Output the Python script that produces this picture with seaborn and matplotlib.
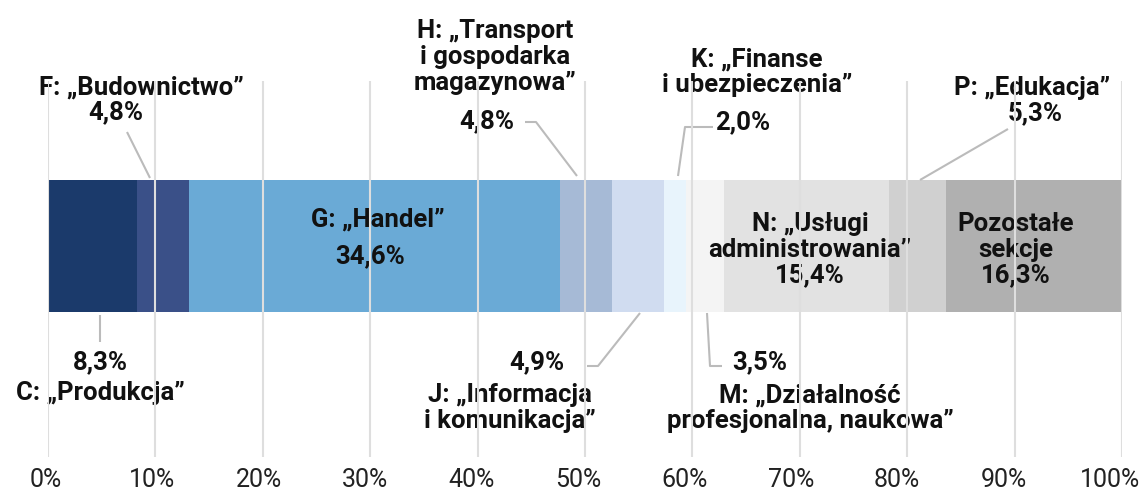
import matplotlib
matplotlib.use("Agg")
import matplotlib.pyplot as plt
import matplotlib.transforms as mtransforms
import seaborn as sns
import pandas as pd

# ---- data ----
codes = ["C", "F", "G", "H", "J", "K", "M", "N", "P", "Pozostałe"]
values = [8.3, 4.8, 34.6, 4.8, 4.9, 2.0, 3.5, 15.4, 5.3, 16.3]
names = [
    "C: „Produkcja”",
    "F: „Budownictwo”",
    "G: „Handel”",
    "H: „Transport\ni gospodarka\nmagazynowa”",
    "J: „Informacja\ni komunikacja”",
    "K: „Finanse\ni ubezpieczenia”",
    "M: „Działalność\nprofesjonalna, naukowa”",
    "N: „Usługi\nadministrowania”",
    "P: „Edukacja”",
    "Pozostałe\nsekcje",
]
colors = ["#1b3a6b", "#3a5088", "#6aaad6", "#a6bad6", "#d0dcf0",
          "#e8f4fc", "#f4f4f4", "#e2e2e2", "#d0d0d0", "#b0b0b0"]
tick_values = [0, 10, 20, 30, 40, 50, 60, 70, 80, 90, 100]
tick_labels = [f"{v}%" for v in tick_values]

def pct(v):
    return f"{v:.1f}".replace(".", ",") + "%"

df = pd.DataFrame({"code": codes, "value": values, "color": colors})
df["cum"] = df["value"].cumsum()
df["row"] = "bar"

# ---- figure ----
W, H = 1146, 494
fig = plt.figure(figsize=(W / 100, H / 100), dpi=100)
ax_top, ax_bot = 81, 457
x0, x1 = 48, 1122
ax = fig.add_axes([x0 / W, (H - ax_bot) / H, (x1 - x0) / W, (ax_bot - ax_top) / H])

sns.set_style("white")
plt.rcParams["font.family"] = ["Roboto", "DejaVu Sans"]

# stacked bar: draw cumulative totals from largest to smallest
for i in reversed(range(len(df))):
    sns.barplot(data=df.iloc[[i]], x="cum", y="row", color=df["color"].iloc[i],
                saturation=1, width=1, errorbar=None, orient="h",
                linewidth=0, ax=ax)

# pixel helpers (layout only)
bar_c, bar_h = 246, 132
def X(px):
    return (px - x0) / (x1 - x0) * 100
def Y(py):
    return (py - bar_c) / bar_h

ax.set_xlim(0, 100)
ax.set_ylim(Y(ax_bot), Y(ax_top))
ax.set_xticks(tick_values)
ax.set_xticklabels(tick_labels)
ax.set_yticks([])
ax.set_xlabel("")
ax.set_ylabel("")
for s in ax.spines.values():
    s.set_visible(False)
ax.set_axisbelow(False)
ax.grid(axis="x", color="#dedede", linewidth=1.5)
ax.grid(axis="y", visible=False)
ax.tick_params(axis="x", length=0, pad=8, labelsize=18, labelcolor="#222222")
# tick labels sit slightly left of their gridlines, increasingly towards the right
for k, tick in enumerate(ax.xaxis.get_major_ticks()):
    tick.label1.set_fontfamily(["Roboto", "DejaVu Sans"])
    shift = -(2 + k) / 100
    tick.label1.set_transform(tick.label1.get_transform() +
                              mtransforms.ScaledTranslation(shift, 0, fig.dpi_scale_trans))

TXT = dict(ha="center", va="center", fontsize=18.5, fontweight="bold",
           color="#111111", zorder=2, linespacing=1.08,
           family=["Roboto", "DejaVu Sans"])
LINE = dict(color="#bbbbbb", linewidth=1.5, zorder=2.2, solid_capstyle="butt")

def label(px, py, s, **kw):
    d = dict(TXT); d.update(kw)
    ax.text(X(px), Y(py), s, **d)

def leader(*pts):
    ax.plot([X(p[0]) for p in pts], [Y(p[1]) for p in pts], **LINE)

v = dict(zip(codes, values))
n = dict(zip(codes, names))

# C
label(100, 362, pct(v["C"]))
label(100, 393, n["C"])
leader((100, 315), (100, 342))
# F
label(141, 88, n["F"])
label(116, 112, pct(v["F"]))
leader((127, 132), (150, 178))
# G
label(378, 220, n["G"])
label(370, 256, pct(v["G"]))
# H
label(495, 57, n["H"])
label(487, 121, pct(v["H"]))
leader((525, 122), (536, 122), (577, 176))
# J
label(537, 362, pct(v["J"]))
label(510, 408, n["J"])
leader((640, 313), (598, 366), (587, 366))
# K
label(757, 72, n["K"])
label(743, 122, pct(v["K"]))
leader((713, 127), (685, 127), (678, 176))
# M
label(760, 362, pct(v["M"]))
label(810, 408, n["M"])
leader((707, 313), (710, 366), (722, 366))
# N
label(810, 250, n["N"] + "\n" + pct(v["N"]))
# P
label(1032, 88, n["P"])
label(1035, 113, pct(v["P"]))
leader((1008, 129), (920, 180))
# Pozostałe
label(1016, 250, n["Pozostałe"] + "\n" + pct(v["Pozostałe"]))

fig.savefig("out.png", dpi=100, facecolor="white")
